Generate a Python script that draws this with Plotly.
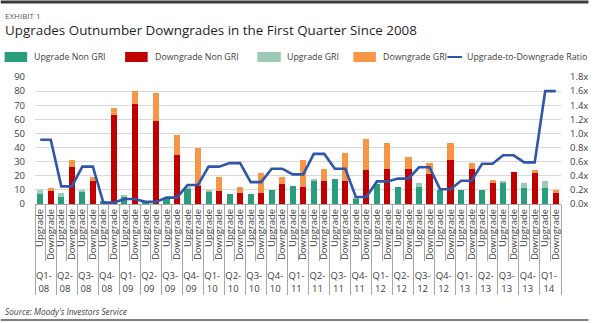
import plotly.graph_objects as go

# Quarterly rating actions and upgrade-to-downgrade ratio
quarters = ["Q1-08", "Q2-08", "Q3-08", "Q4-08", "Q1-09", "Q2-09", "Q3-09", "Q4-09",
            "Q1-10", "Q2-10", "Q3-10", "Q4-10", "Q1-11", "Q2-11", "Q3-11", "Q4-11",
            "Q1-12", "Q2-12", "Q3-12", "Q4-12", "Q1-13", "Q2-13", "Q3-13", "Q4-13",
            "Q1-14"]
upgrade_non_gri = [7, 5, 9, 2, 5, 2, 4, 11, 9, 7, 7, 10, 13, 16, 18, 4,
                   14, 12, 12, 10, 10, 10, 15, 11, 11]
upgrade_gri = [3, 3, 1, 0, 1, 0, 0, 1, 1, 0, 0, 0, 0, 2, 0, 1,
               0, 0, 3, 0, 0, 0, 1, 4, 5]
downgrade_non_gri = [9, 26, 16, 63, 71, 59, 35, 13, 9, 8, 8, 14, 12, 16, 16, 24,
                     25, 25, 21, 31, 25, 15, 23, 22, 8]
downgrade_gri = [2, 5, 3, 5, 9, 20, 14, 27, 10, 4, 14, 5, 19, 9, 20, 22,
                 18, 8, 8, 12, 4, 2, 0, 2, 2]
ratio = [0.91, 0.25, 0.53, 0.02, 0.07, 0.03, 0.09, 0.27, 0.53, 0.58, 0.31, 0.50,
         0.42, 0.71, 0.50, 0.10, 0.32, 0.36, 0.52, 0.21, 0.33, 0.57, 0.69, 0.59, 1.60]
action_types = ["Upgrade", "Downgrade"]

C_UP = "#2a9d7c"
C_DN = "#c00000"
C_UP_GRI = "#9dcab4"
C_DN_GRI = "#f79646"
C_LINE = "#2f56a8"

q_labels = [q.replace("-", "-<br>") for q in quarters]
n = len(quarters)

# plot area in pixels
PL, PR, PT, PB = 35, 572, 77, 204


def fx(px):
    return (px - PL) / (PR - PL)


def fy(py):
    return (PB - py) / (PB - PT)


fig = go.Figure()

# ratio line: one value per quarter, held across both bars of the quarter
line_outer, line_inner, line_y = [], [], []
for q, r in zip(q_labels, ratio):
    for a in action_types:
        line_outer.append(q)
        line_inner.append(a)
        line_y.append(r)

fig.add_trace(go.Scatter(
    x=[line_outer, line_inner], y=line_y, yaxis="y2", mode="lines",
    line=dict(color=C_LINE, width=2.6), name="Upgrade-to-Downgrade Ratio",
    hoverinfo="skip"))

x_up = [q_labels, ["Upgrade"] * n]
x_dn = [q_labels, ["Downgrade"] * n]

fig.add_trace(go.Bar(x=x_up, y=upgrade_non_gri, marker_color=C_UP, name="Upgrade Non GRI"))
fig.add_trace(go.Bar(x=x_up, y=upgrade_gri, marker_color=C_UP_GRI, name="Upgrade GRI"))
fig.add_trace(go.Bar(x=x_dn, y=downgrade_non_gri, marker_color=C_DN, name="Downgrade Non GRI"))
fig.add_trace(go.Bar(x=x_dn, y=downgrade_gri, marker_color=C_DN_GRI, name="Downgrade GRI"))

fig.update_traces(marker_line_width=0, selector=dict(type="bar"))

fig.update_layout(
    width=600, height=323,
    margin=dict(l=PL, r=600 - PR, t=PT, b=323 - PB, pad=0),
    paper_bgcolor="white", plot_bgcolor="white",
    barmode="stack", bargap=0.42,
    showlegend=False,
    font=dict(family="Open Sans", color="#404040", size=9),
    xaxis=dict(
        tickmode="linear", tick0=0, dtick=1,
        tickangle=-90, tickfont=dict(size=9.5, color="#404040"),
        showline=True, linecolor="#a6a6a6", linewidth=1,
        ticks="outside", tickson="boundaries", ticklen=56, tickcolor="#a6a6a6",
        showdividers=True, dividercolor="#a6a6a6", dividerwidth=1,
        showgrid=False, zeroline=False,
    ),
    yaxis=dict(
        range=[0, 90], dtick=10, showgrid=True, gridcolor="#d9d9d9", gridwidth=1,
        zeroline=False, showline=False, ticks="", ticklabelstandoff=9,
        tickfont=dict(size=9.5, color="#404040"),
    ),
    yaxis2=dict(
        range=[0, 1.8], dtick=0.2, tickformat=".1f", ticksuffix="x",
        overlaying="y", side="right", showgrid=False, zeroline=False,
        showline=False, ticks="", ticklabelstandoff=8,
        tickfont=dict(size=9.5, color="#404040"),
    ),
)

shapes = []
annotations = []

# rules at the top and bottom of the exhibit
shapes.append(dict(type="line", xref="paper", yref="paper",
                   x0=fx(0), x1=fx(600), y0=fy(2), y1=fy(2),
                   line=dict(color="#3a3a3a", width=3)))
shapes.append(dict(type="line", xref="paper", yref="paper",
                   x0=fx(0), x1=fx(600), y0=fy(320), y1=fy(320),
                   line=dict(color="#808080", width=2)))

annotations.append(dict(text="EXHIBIT 1", xref="paper", yref="paper",
                        x=fx(2), y=fy(15), xanchor="left", yanchor="middle",
                        showarrow=False, font=dict(size=8, color="#595959")))
annotations.append(dict(text="Upgrades Outnumber Downgrades in the First Quarter Since 2008",
                        xref="paper", yref="paper", x=fx(2), y=fy(30),
                        xanchor="left", yanchor="middle", showarrow=False,
                        font=dict(size=13.4, color="#1f1f1f")))
annotations.append(dict(text="<i>Source: Moody's Investors Service</i>",
                        xref="paper", yref="paper", x=fx(2), y=fy(311),
                        xanchor="left", yanchor="middle", showarrow=False,
                        font=dict(size=8.3, color="#404040")))

# legend row
legend_items = [
    ("box", C_UP, "Upgrade Non GRI", 4, 27, 32),
    ("box", C_DN, "Downgrade Non GRI", 127, 150, 155),
    ("box", C_UP_GRI, "Upgrade GRI", 262, 286, 290),
    ("box", C_DN_GRI, "Downgrade GRI", 360, 383, 388),
    ("line", C_LINE, "Upgrade-to-Downgrade Ratio", 456, 471, 474),
]
ly = 57
for kind, color, label, x0, x1, tx in legend_items:
    if kind == "box":
        shapes.append(dict(type="rect", xref="paper", yref="paper",
                           x0=fx(x0), x1=fx(x1), y0=fy(ly + 5), y1=fy(ly - 5),
                           fillcolor=color, line=dict(width=0)))
    else:
        shapes.append(dict(type="line", xref="paper", yref="paper",
                           x0=fx(x0), x1=fx(x1), y0=fy(ly), y1=fy(ly),
                           line=dict(color=color, width=2)))
    annotations.append(dict(text=label, xref="paper", yref="paper",
                            x=fx(tx), y=fy(ly), xanchor="left", yanchor="middle",
                            showarrow=False, font=dict(size=8.8, color="#404040")))

fig.update_layout(shapes=shapes, annotations=annotations)

fig.write_html("out.html")
